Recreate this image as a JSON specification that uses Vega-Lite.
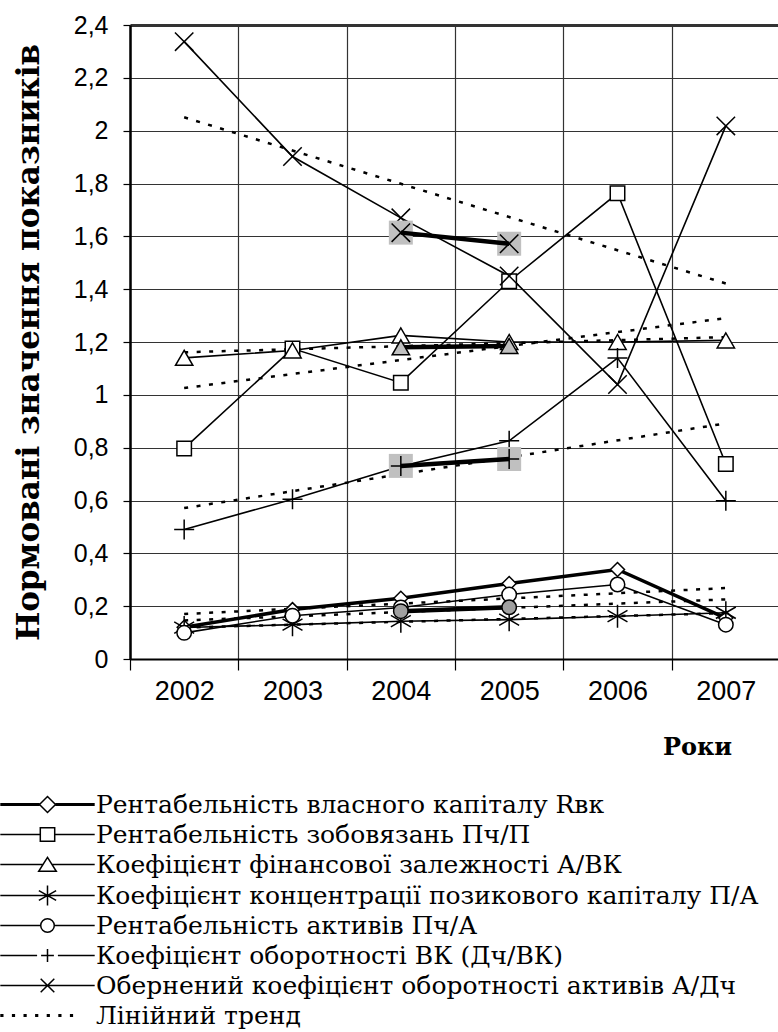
{
  "$schema": "https://vega.github.io/schema/vega-lite/v6.json",
  "width": 650,
  "height": 634,
  "autosize": {"type": "none"},
  "padding": {"left": 130, "top": 25, "right": 0, "bottom": 373},
  "background": "white",
  "config": {"view": {"stroke": null}, "font": "Liberation Sans"},
  "datasets": {
    "main": [
      {"year": 2002, "series": "Рентабельність власного капіталу Rвк", "value": 0.12},
      {"year": 2003, "series": "Рентабельність власного капіталу Rвк", "value": 0.187},
      {"year": 2004, "series": "Рентабельність власного капіталу Rвк", "value": 0.23},
      {"year": 2005, "series": "Рентабельність власного капіталу Rвк", "value": 0.286},
      {"year": 2006, "series": "Рентабельність власного капіталу Rвк", "value": 0.339},
      {"year": 2007, "series": "Рентабельність власного капіталу Rвк", "value": 0.155},
      {"year": 2002, "series": "Рентабельність зобовязань Пч/П", "value": 0.797},
      {"year": 2003, "series": "Рентабельність зобовязань Пч/П", "value": 1.175},
      {"year": 2004, "series": "Рентабельність зобовязань Пч/П", "value": 1.046},
      {"year": 2005, "series": "Рентабельність зобовязань Пч/П", "value": 1.43},
      {"year": 2006, "series": "Рентабельність зобовязань Пч/П", "value": 1.763},
      {"year": 2007, "series": "Рентабельність зобовязань Пч/П", "value": 0.738},
      {"year": 2002, "series": "Коефіцієнт фінансової залежності А/ВК", "value": 1.14},
      {"year": 2003, "series": "Коефіцієнт фінансової залежності А/ВК", "value": 1.168},
      {"year": 2004, "series": "Коефіцієнт фінансової залежності А/ВК", "value": 1.225},
      {"year": 2005, "series": "Коефіцієнт фінансової залежності А/ВК", "value": 1.2},
      {"year": 2006, "series": "Коефіцієнт фінансової залежності А/ВК", "value": 1.2},
      {"year": 2007, "series": "Коефіцієнт фінансової залежності А/ВК", "value": 1.206},
      {"year": 2002, "series": "Коефіцієнт концентрації позикового капіталу П/А", "value": 0.119},
      {"year": 2003, "series": "Коефіцієнт концентрації позикового капіталу П/А", "value": 0.13},
      {"year": 2004, "series": "Коефіцієнт концентрації позикового капіталу П/А", "value": 0.143},
      {"year": 2005, "series": "Коефіцієнт концентрації позикового капіталу П/А", "value": 0.149},
      {"year": 2006, "series": "Коефіцієнт концентрації позикового капіталу П/А", "value": 0.162},
      {"year": 2007, "series": "Коефіцієнт концентрації позикового капіталу П/А", "value": 0.175},
      {"year": 2002, "series": "Рентабельність активів Пч/А", "value": 0.099},
      {"year": 2003, "series": "Рентабельність активів Пч/А", "value": 0.164},
      {"year": 2004, "series": "Рентабельність активів Пч/А", "value": 0.195},
      {"year": 2005, "series": "Рентабельність активів Пч/А", "value": 0.244},
      {"year": 2006, "series": "Рентабельність активів Пч/А", "value": 0.282},
      {"year": 2007, "series": "Рентабельність активів Пч/А", "value": 0.13},
      {"year": 2002, "series": "Коефіцієнт оборотності ВК (Дч/ВК)", "value": 0.49},
      {"year": 2003, "series": "Коефіцієнт оборотності ВК (Дч/ВК)", "value": 0.605},
      {"year": 2004, "series": "Коефіцієнт оборотності ВК (Дч/ВК)", "value": 0.73},
      {"year": 2005, "series": "Коефіцієнт оборотності ВК (Дч/ВК)", "value": 0.826},
      {"year": 2006, "series": "Коефіцієнт оборотності ВК (Дч/ВК)", "value": 1.139},
      {"year": 2007, "series": "Коефіцієнт оборотності ВК (Дч/ВК)", "value": 0.599},
      {"year": 2002, "series": "Обернений коефіцієнт оборотності активів А/Дч", "value": 2.337},
      {"year": 2003, "series": "Обернений коефіцієнт оборотності активів А/Дч", "value": 1.902},
      {"year": 2004, "series": "Обернений коефіцієнт оборотності активів А/Дч", "value": 1.67},
      {"year": 2005, "series": "Обернений коефіцієнт оборотності активів А/Дч", "value": 1.45},
      {"year": 2006, "series": "Обернений коефіцієнт оборотності активів А/Дч", "value": 1.039},
      {"year": 2007, "series": "Обернений коефіцієнт оборотності активів А/Дч", "value": 2.018}
    ],
    "hl": [
      {"year": 2004, "series": "Коефіцієнт фінансової залежності А/ВК", "value": 1.18},
      {"year": 2005, "series": "Коефіцієнт фінансової залежності А/ВК", "value": 1.185},
      {"year": 2004, "series": "Рентабельність активів Пч/А", "value": 0.181},
      {"year": 2005, "series": "Рентабельність активів Пч/А", "value": 0.196},
      {"year": 2004, "series": "Коефіцієнт оборотності ВК (Дч/ВК)", "value": 0.731},
      {"year": 2005, "series": "Коефіцієнт оборотності ВК (Дч/ВК)", "value": 0.757},
      {"year": 2004, "series": "Обернений коефіцієнт оборотності активів А/Дч", "value": 1.614},
      {"year": 2005, "series": "Обернений коефіцієнт оборотності активів А/Дч", "value": 1.572}
    ]
  },
  "encoding": {
    "x": {
      "field": "year", "type": "ordinal", "bandPosition": 0.5,
      "scale": {"type": "band", "paddingInner": 0, "paddingOuter": 0, "domain": [2002, 2003, 2004, 2005, 2006, 2007]},
      "axis": {
        "title": "Роки", "titleFont": "DejaVu Serif", "titleFontWeight": "bold", "titleFontSize": 24, "titleColor": "black",
        "titleX": 567, "titleY": 88, "titleBaseline": "middle", "titleAlign": "center", "titleAnchor": null,
        "labelFont": "Liberation Sans", "labelFontSize": 27, "labelAngle": 0, "labelPadding": 8, "labelColor": "black",
        "tickBand": "extent", "tickSize": 11, "tickColor": "black", "tickWidth": 1.2,
        "grid": true, "gridColor": "#333333", "gridWidth": 1.2,
        "domainColor": "black", "domainWidth": 2
      }
    },
    "y": {
      "field": "value", "type": "quantitative",
      "scale": {"domain": [0, 2.4], "nice": false, "zero": true},
      "axis": {
        "title": "Нормовані значення показників", "titleFont": "DejaVu Serif", "titleFontWeight": "bold", "titleFontSize": 31, "titleColor": "black",
        "titleX": -101, "titleY": 317, "titleBaseline": "middle", "titleAlign": "center", "titleAngle": 270,
        "values": [0, 0.2, 0.4, 0.6, 0.8, 1, 1.2, 1.4, 1.6, 1.8, 2, 2.2, 2.4],
        "labelExpr": "replace(format(datum.value, '.1~f'), '.', ',')",
        "labelFont": "Liberation Sans", "labelFontSize": 25, "labelPadding": 15, "labelColor": "black",
        "tickSize": 7, "tickColor": "black", "tickWidth": 1.2,
        "grid": true, "gridColor": "#333333",
        "gridWidth": {"condition": {"test": "datum.value > 2.3", "value": 3}, "value": 1.2},
        "domainColor": "black", "domainWidth": 2.5
      }
    }
  },
  "layer": [
    {
      "data": {"name": "main"},
      "transform": [{"regression": "value", "on": "year", "groupby": ["series"], "extent": [2002, 2007]}],
      "mark": {"type": "line", "color": "black", "strokeWidth": 2.5, "strokeDash": [4, 8.5], "strokeCap": "butt"},
      "encoding": {"detail": {"field": "series"}}
    },
    {
      "data": {"name": "main"},
      "mark": {"type": "line", "color": "black"},
      "encoding": {
        "detail": {"field": "series"},
        "strokeWidth": {"condition": {"test": {"field": "series", "equal": "Рентабельність власного капіталу Rвк"}, "value": 3.5}, "value": 1.6}
      }
    },
    {
      "data": {"name": "main"},
      "mark": {"type": "point", "filled": true, "fill": "white", "stroke": "black", "strokeWidth": 1.5, "opacity": 1},
      "encoding": {
        "shape": {"condition": [
          {"test": {"field": "series", "equal": "Рентабельність власного капіталу Rвк"}, "value": "diamond"},
          {"test": {"field": "series", "equal": "Рентабельність зобовязань Пч/П"}, "value": "square"},
          {"test": {"field": "series", "equal": "Коефіцієнт фінансової залежності А/ВК"}, "value": "triangle-up"},
          {"test": {"field": "series", "equal": "Коефіцієнт концентрації позикового капіталу П/А"}, "value": "M0,-1V1M-0.866,-0.5L0.866,0.5M-0.866,0.5L0.866,-0.5"},
          {"test": {"field": "series", "equal": "Коефіцієнт оборотності ВК (Дч/ВК)"}, "value": "M-1,0H1M0,-1V1"},
          {"test": {"field": "series", "equal": "Обернений коефіцієнт оборотності активів А/Дч"}, "value": "M-1,-1L1,1M-1,1L1,-1"}
        ], "value": "circle"},
        "size": {"condition": [
          {"test": {"field": "series", "equal": "Рентабельність власного капіталу Rвк"}, "value": 196},
          {"test": {"field": "series", "equal": "Рентабельність зобовязань Пч/П"}, "value": 210},
          {"test": {"field": "series", "equal": "Коефіцієнт фінансової залежності А/ВК"}, "value": 300},
          {"test": {"field": "series", "equal": "Коефіцієнт концентрації позикового капіталу П/А"}, "value": 529},
          {"test": {"field": "series", "equal": "Коефіцієнт оборотності ВК (Дч/ВК)"}, "value": 400},
          {"test": {"field": "series", "equal": "Обернений коефіцієнт оборотності активів А/Дч"}, "value": 340}
        ], "value": 210}
      }
    },
    {
      "data": {"name": "hl"},
      "transform": [{"filter": {"field": "series", "oneOf": ["Коефіцієнт оборотності ВК (Дч/ВК)", "Обернений коефіцієнт оборотності активів А/Дч"]}}],
      "mark": {"type": "point", "shape": "square", "filled": true, "fill": "#c0c0c0", "size": 576, "strokeWidth": 0, "opacity": 1}
    },
    {
      "data": {"name": "hl"},
      "mark": {"type": "line", "color": "black", "strokeWidth": 4.5},
      "encoding": {"detail": {"field": "series"}}
    },
    {
      "data": {"name": "hl"},
      "mark": {"type": "point", "filled": true, "stroke": "black", "strokeWidth": 1.5, "opacity": 1},
      "encoding": {
        "fill": {"condition": {"test": {"field": "series", "equal": "Рентабельність активів Пч/А"}, "value": "#a0a0a0"}, "value": "#c0c0c0"},
        "shape": {"condition": [
          {"test": {"field": "series", "equal": "Коефіцієнт фінансової залежності А/ВК"}, "value": "triangle-up"},
          {"test": {"field": "series", "equal": "Коефіцієнт оборотності ВК (Дч/ВК)"}, "value": "M-1,0H1M0,-1V1"},
          {"test": {"field": "series", "equal": "Обернений коефіцієнт оборотності активів А/Дч"}, "value": "M-1,-1L1,1M-1,1L1,-1"}
        ], "value": "circle"},
        "size": {"condition": [
          {"test": {"field": "series", "equal": "Коефіцієнт фінансової залежності А/ВК"}, "value": 300},
          {"test": {"field": "series", "equal": "Коефіцієнт оборотності ВК (Дч/ВК)"}, "value": 400},
          {"test": {"field": "series", "equal": "Обернений коефіцієнт оборотності активів А/Дч"}, "value": 340}
        ], "value": 210}
      }
    },
    {
      "data": {"name": "main"},
      "transform": [{"filter": "false"}],
      "mark": {"type": "point"},
      "encoding": {
        "shape": {
          "field": "series", "type": "nominal",
          "scale": {
            "domain": [
              "Рентабельність власного капіталу Rвк",
              "Рентабельність зобовязань Пч/П",
              "Коефіцієнт фінансової залежності А/ВК",
              "Коефіцієнт концентрації позикового капіталу П/А",
              "Рентабельність активів Пч/А",
              "Коефіцієнт оборотності ВК (Дч/ВК)",
              "Обернений коефіцієнт оборотності активів А/Дч",
              "Лінійний тренд"
            ],
            "range": [
              "M-5.9,-0.09H-1M1,-0.09H5.9M-5.9,0.09H-1M1,0.09H5.9M-1,0L0,-1L1,0L0,1Z",
              "M-5.9,0H-0.9M0.9,0H5.9M-0.9,-0.85H0.9V0.85H-0.9Z",
              "M-5.9,0H-0.57M0.57,0H5.9M0,-0.9L1.1,0.85H-1.1Z",
              "M-5.9,0H5.9M0,-1.25V1.25M-1.08,-0.62L1.08,0.62M-1.08,0.62L1.08,-0.62",
              "M-5.9,0H-0.85M0.85,0H5.9M0.85,0A0.85,0.85,0,1,1,-0.85,0A0.85,0.85,0,1,1,0.85,0",
              "M-5.9,0H-1.3M1.3,0H5.9M-0.8,0H0.8M0,-0.8V0.8",
              "M-5.9,0H5.9M-0.85,-0.85L0.85,0.85M-0.85,0.85L0.85,-0.85",
              "M-5.9,-0.09h0.4M-5.9,0.09h0.4M-4.45,-0.09h0.4M-4.45,0.09h0.4M-3,-0.09h0.4M-3,0.09h0.4M-1.55,-0.09h0.4M-1.55,0.09h0.4M-0.1,-0.09h0.4M-0.1,0.09h0.4M1.35,-0.09h0.4M1.35,0.09h0.4M2.8,-0.09h0.4M2.8,0.09h0.4"
            ]
          },
          "legend": {
            "title": null, "orient": "none", "legendX": -95, "legendY": 767, "direction": "vertical", "columns": 1, "padding": 0,
            "symbolSize": 256, "symbolStrokeWidth": 1.5, "symbolFillColor": "white", "symbolStrokeColor": "black", "symbolOpacity": 1,
            "labelFont": "DejaVu Serif", "labelFontSize": 25, "labelColor": "black", "labelLimit": 800, "labelOffset": 36, "rowPadding": 4,
            "encode": {"symbols": {"update": {"fill": {"value": "white"}, "stroke": {"value": "black"}, "strokeWidth": {"value": 1.5}, "opacity": {"value": 1}}}}
          }
        }
      }
    }
  ]
}
